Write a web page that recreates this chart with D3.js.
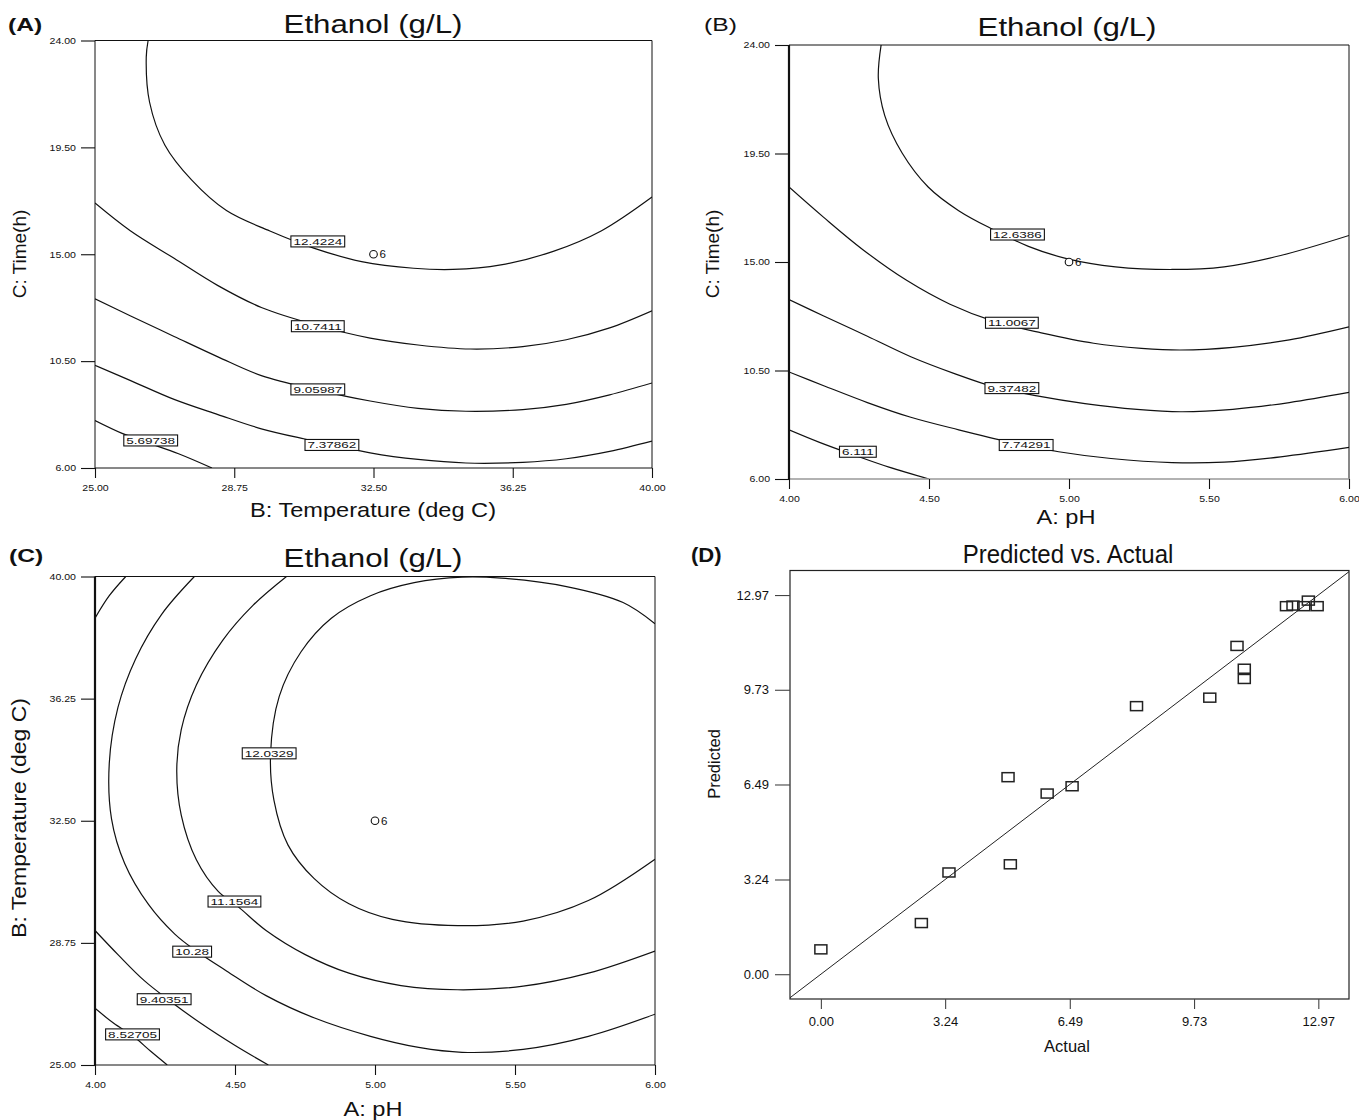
<!DOCTYPE html>
<html><head><meta charset="utf-8">
<script src="https://cdn.jsdelivr.net/npm/d3@7"></script>
<style>
body{margin:0;background:#fff}
svg{display:block}
text{font-family:"Liberation Sans",Arial,Helvetica,sans-serif}
</style>
</head><body>
<svg id="chart" width="1359" height="1120"></svg>
<script>
// ---------------- DATA ----------------
// Panel A : B Temperature (x) vs C Time (y)
const aXTicks = [25, 28.75, 32.5, 36.25, 40];
const aYTicks = [6, 10.5, 15, 19.5, 24];
const aLine12_4224 = [[26.43,24.0],[26.38,23.3],[26.47,21.4],[26.88,19.6],[27.6,18.13],[28.54,16.84],[29.71,15.98],[30.89,15.26],[32.18,14.69],[33.58,14.41],[34.64,14.36],[35.93,14.55],[37.34,15.12],[38.63,15.98],[40.0,17.41]];
const aLine10_7411 = [[25.0,17.16],[25.96,15.98],[27.13,14.83],[28.3,13.69],[29.48,12.76],[31.0,12.0],[32.41,11.47],[33.7,11.18],[35.11,11.01],[36.52,11.11],[37.69,11.4],[38.86,11.9],[40.0,12.62]];
const aLine9_05987 = [[25.0,13.12],[25.96,12.4],[27.13,11.54],[28.31,10.68],[29.48,9.89],[31.0,9.28],[32.41,8.82],[33.7,8.51],[34.99,8.39],[36.52,8.46],[37.69,8.68],[38.86,9.08],[40.0,9.58]];
const aLine7_37862 = [[25.0,10.32],[25.96,9.68],[27.13,8.89],[28.31,8.25],[29.48,7.65],[30.65,7.22],[31.36,6.99],[32.41,6.64],[33.7,6.36],[34.99,6.21],[36.52,6.24],[37.69,6.39],[38.86,6.7],[40.0,7.13]];
const aLine5_69738 = [[25.0,8.0],[25.73,7.46],[26.43,7.06],[27.25,6.6],[28.15,6.0]];
const aLabels = [["12.4224",31.0,15.54],["10.7411",31.0,11.97],["9.05987",31.0,9.31],["7.37862",31.38,6.97],["5.69738",26.5,7.16]];
const aDesignPoint = [32.5, 15, "6"];

// Panel B : A pH (x) vs C Time (y)
const bXTicks = [4, 4.5, 5, 5.5, 6];
const bYTicks = [6, 10.5, 15, 19.5, 24];
const bLine12_6386 = [[4.329,24.0],[4.319,22.62],[4.342,21.07],[4.404,19.52],[4.497,18.11],[4.606,17.13],[4.73,16.34],[4.855,15.65],[4.995,15.13],[5.166,14.8],[5.368,14.69],[5.554,14.8],[5.756,15.27],[6.0,16.1]];
const bLine11_0067 = [[4.0,18.11],[4.124,16.85],[4.264,15.51],[4.42,14.24],[4.575,13.25],[4.73,12.55],[4.901,12.06],[5.088,11.63],[5.259,11.42],[5.399,11.35],[5.585,11.46],[5.787,11.77],[6.0,12.31]];
const bLine9_37482 = [[4.0,13.44],[4.124,12.76],[4.28,11.92],[4.435,11.07],[4.591,10.37],[4.73,9.83],[4.886,9.45],[5.057,9.13],[5.243,8.89],[5.399,8.79],[5.585,8.89],[5.787,9.17],[6.0,9.59]];
const bLine7_74291 = [[4.0,10.44],[4.124,9.87],[4.28,9.17],[4.435,8.56],[4.606,8.04],[4.793,7.52],[4.963,7.13],[5.15,6.85],[5.368,6.68],[5.554,6.7],[5.756,6.92],[6.0,7.31]];
const bLine6_111 = [[4.0,8.04],[4.109,7.52],[4.233,6.99],[4.357,6.49],[4.5,6.0]];
const bLabels = [["12.6386",4.816,16.14],["11.0067",4.796,12.48],["9.37482",4.796,9.77],["7.74291",4.847,7.41],["6.111",4.246,7.13]];
const bDesignPoint = [5.0, 15, "6"];

// Panel C : A pH (x) vs B Temperature (y)
const cXTicks = [4, 4.5, 5, 5.5, 6];
const cYTicks = [25, 28.75, 32.5, 36.25, 40];
const cLine12_0329 = [[6.0,38.55],[5.886,39.2],[5.684,39.69],[5.451,39.95],[5.311,39.98],[5.14,39.81],[4.984,39.41],[4.844,38.72],[4.736,37.69],[4.658,36.32],[4.627,34.55],[4.639,33.13],[4.689,31.76],[4.782,30.73],[4.907,29.95],[5.062,29.47],[5.295,29.28],[5.529,29.42],[5.762,30.05],[6.0,31.32]];
const cLine11_1564 = [[4.684,40.0],[4.565,39.12],[4.456,38.04],[4.362,36.67],[4.308,35.3],[4.292,34.04],[4.308,32.67],[4.362,31.3],[4.44,30.33],[4.51,29.87],[4.611,29.13],[4.751,28.39],[4.907,27.82],[5.093,27.44],[5.295,27.31],[5.529,27.42],[5.762,27.82],[6.0,28.5]];
const cLine10_28 = [[4.355,40.0],[4.238,38.84],[4.145,37.47],[4.082,35.98],[4.051,34.27],[4.059,32.56],[4.106,31.19],[4.191,29.93],[4.285,29.02],[4.362,28.5],[4.471,27.88],[4.611,27.13],[4.782,26.45],[4.984,25.88],[5.156,25.54],[5.311,25.39],[5.529,25.48],[5.762,25.88],[6.0,26.56]];
const cLine9_40351 = [[4.0,29.13],[4.082,28.39],[4.176,27.59],[4.269,26.96],[4.378,26.28],[4.502,25.59],[4.619,25.0]];
const cLine8_52705 = [[4.0,26.74],[4.067,26.28],[4.137,25.88],[4.199,25.42],[4.258,25.0]];
const cLineCorner = [[4.11,40.0],[4.051,39.41],[4.0,38.72]];
const cLabels = [["12.0329",4.622,34.57],["11.1564",4.498,30.02],["10.28",4.347,28.48],["9.40351",4.247,27.02],["8.52705",4.134,25.94]];
const cDesignPoint = [5.0, 32.5, "6"];

// Panel D : Predicted vs Actual
const dTicks = [0, 3.24, 6.49, 9.73, 12.97];
const dActual    = [0.00, 2.62, 3.34, 4.94, 4.88, 5.90, 6.55, 8.23, 10.14, 10.85, 11.04, 11.04, 12.14, 12.31, 12.59, 12.71, 12.94];
const dPredicted = [0.85, 1.75, 3.48, 3.76, 6.74, 6.18, 6.43, 9.17, 9.46, 11.23, 10.45, 10.10, 12.59, 12.61, 12.59, 12.78, 12.59];

// ---------------- DRAW ----------------
const svg = d3.select("#chart");
const INK = "#111";

function sText(g, x, y, str, size, sx, opts = {}) {
  const rot = opts.rotate ? ` rotate(${opts.rotate})` : "";
  return g.append("text")
    .attr("transform", `translate(${x},${y})${rot} scale(${sx},1)`)
    .attr("text-anchor", opts.anchor || "middle")
    .attr("font-size", size)
    .attr("font-weight", opts.bold ? "bold" : "normal")
    .attr("fill", INK)
    .text(str);
}

function contourPanel(p) {
  const g = svg.append("g");
  const xs = d3.scaleLinear().domain(p.xDom).range([p.left, p.right]);
  const ys = d3.scaleLinear().domain(p.yDom).range([p.bottom, p.top]);
  const clipId = "clip" + p.id;
  svg.append("clipPath").attr("id", clipId).append("rect")
    .attr("x", p.left).attr("y", p.top)
    .attr("width", p.right - p.left).attr("height", p.bottom - p.top);

  const line = d3.line().x(d => xs(d[0])).y(d => ys(d[1])).curve(d3.curveCatmullRom.alpha(0.5));
  g.append("g").attr("clip-path", `url(#${clipId})`)
    .selectAll("path").data(p.lines).join("path")
    .attr("d", line).attr("fill", "none").attr("stroke", INK).attr("stroke-width", 1.2);

  // frame
  g.append("line").attr("x1", p.left).attr("x2", p.right).attr("y1", p.top).attr("y2", p.top).attr("stroke", INK).attr("stroke-width", 1);
  g.append("line").attr("x1", p.right).attr("x2", p.right).attr("y1", p.top).attr("y2", p.bottom).attr("stroke", INK).attr("stroke-width", 1);
  g.append("line").attr("x1", p.left).attr("x2", p.right).attr("y1", p.bottom).attr("y2", p.bottom).attr("stroke", p.bottomColor || INK).attr("stroke-width", p.bottomW || 1);
  g.append("line").attr("x1", p.left).attr("x2", p.left).attr("y1", p.top).attr("y2", p.bottom).attr("stroke", INK).attr("stroke-width", p.leftW || 1);

  const fmt = d3.format(".2f");
  const TS = 1.2; // horizontal stretch of small tick text
  const xAx = g.append("g").attr("transform", `translate(0,${p.bottom})`)
    .call(d3.axisBottom(xs).tickValues(p.xTicks).tickFormat(fmt).tickSize(10).tickPadding(p.xPad || 7));
  const yAx = g.append("g").attr("transform", `translate(${p.left},0)`)
    .call(d3.axisLeft(ys).tickValues(p.yTicks).tickFormat(fmt).tickSize(14).tickPadding(5));
  [xAx, yAx].forEach(a => {
    a.select(".domain").remove();
    a.selectAll(".tick line").attr("stroke", INK).attr("stroke-width", 1.1);
    a.selectAll(".tick text").attr("font-size", 8.8).attr("fill", INK)
      .attr("font-family", '"Liberation Sans", Arial, sans-serif');
  });
  xAx.selectAll(".tick text").attr("transform", `scale(${TS},1)`);
  yAx.selectAll(".tick text").each(function () {
    const t = d3.select(this);
    t.attr("x", +t.attr("x") / TS).attr("transform", `scale(${TS},1)`);
  });

  // design point
  const dp = p.point;
  g.append("circle").attr("cx", xs(dp[0])).attr("cy", ys(dp[1])).attr("r", 3.8)
    .attr("fill", "#fff").attr("stroke", INK).attr("stroke-width", 1.1);
  sText(g, xs(dp[0]) + 6, ys(dp[1]) + 3.8, dp[2], 10.5, 1.1, { anchor: "start" });

  // contour labels
  const LS = 1.5;
  p.labels.forEach(([s, vx, vy]) => {
    const cx = xs(vx), cy = ys(vy);
    const lg = g.append("g");
    const rect = lg.append("rect").attr("fill", "#fff").attr("stroke", INK).attr("stroke-width", 1.1);
    const t = sText(lg, cx, cy + 3.4, s, 9, LS);
    const w = t.node().getComputedTextLength() * LS + 5;
    rect.attr("x", cx - w / 2).attr("y", cy - 5.5).attr("width", w).attr("height", 11);
  });

  // texts
  sText(g, p.letter[1], p.letter[2], p.letter[0], 19, 1.3, { anchor: "start", bold: p.letter[3] });
  sText(g, p.title[1], p.title[2], p.title[0], 25, 1.25);
  sText(g, p.xTitle[1], p.xTitle[2], p.xTitle[0], 20, 1.18);
  sText(g, p.yTitle[1], p.yTitle[2], p.yTitle[0], p.yTitle[3], p.yTitle[4], { rotate: -90 });
}

contourPanel({
  id: "A", left: 95, right: 652, top: 40.5, bottom: 468,
  xDom: [25, 40], yDom: [6, 24], xTicks: aXTicks, yTicks: aYTicks,
  lines: [aLine12_4224, aLine10_7411, aLine9_05987, aLine7_37862, aLine5_69738],
  labels: aLabels, point: aDesignPoint,
  letter: ["(A)", 8, 31, true],
  title: ["Ethanol (g/L)", 373, 33],
  xTitle: ["B: Temperature (deg C)", 373, 517],
  yTitle: ["C: Time(h)", 26, 254, 19, 1.0]
});

contourPanel({
  id: "B", left: 789, right: 1349, top: 45, bottom: 479,
  leftW: 2.2, bottomColor: "#999", bottomW: 1.6,
  xDom: [4, 6], yDom: [6, 24], xTicks: bXTicks, yTicks: bYTicks,
  lines: [bLine12_6386, bLine11_0067, bLine9_37482, bLine7_74291, bLine6_111],
  labels: bLabels, point: bDesignPoint,
  letter: ["(B)", 704, 31, false],
  title: ["Ethanol (g/L)", 1067, 36],
  xTitle: ["A: pH", 1066, 524],
  yTitle: ["C: Time(h)", 719, 254, 19, 1.0]
});

contourPanel({
  id: "C", left: 95, right: 655, top: 576.5, bottom: 1065,
  leftW: 2.2,
  xDom: [4, 6], yDom: [25, 40], xTicks: cXTicks, yTicks: cYTicks,
  lines: [cLine12_0329, cLine11_1564, cLine10_28, cLine9_40351, cLine8_52705, cLineCorner],
  labels: cLabels, point: cDesignPoint,
  letter: ["(C)", 9, 562, true],
  title: ["Ethanol (g/L)", 373, 567],
  xTitle: ["A: pH", 373, 1116],
  yTitle: ["B: Temperature (deg C)", 26, 818, 20, 1.15]
});

// Panel D
(function () {
  const p = { left: 790, right: 1349, top: 570.5, bottom: 999 };
  const g = svg.append("g");
  const xs = d3.scaleLinear().domain([-0.805, 13.77]).range([p.left, p.right]);
  const ys = d3.scaleLinear().domain([-0.848, 13.81]).range([p.bottom, p.top]);
  svg.append("clipPath").attr("id", "clipD").append("rect")
    .attr("x", p.left).attr("y", p.top).attr("width", p.right - p.left).attr("height", p.bottom - p.top);

  g.append("rect").attr("x", p.left).attr("y", p.top).attr("width", p.right - p.left).attr("height", p.bottom - p.top)
    .attr("fill", "none").attr("stroke", "#222").attr("stroke-width", 1.2);

  const diag = [[-1, -1], [14, 14]];
  g.append("path").attr("clip-path", "url(#clipD)")
    .attr("d", d3.line().x(d => xs(d[0])).y(d => ys(d[1]))(diag))
    .attr("stroke", "#222").attr("stroke-width", 1).attr("fill", "none");

  const fmt = d3.format(".2f");
  const xAx = g.append("g").attr("transform", `translate(0,${p.bottom})`)
    .call(d3.axisBottom(xs).tickValues(dTicks).tickFormat(fmt).tickSize(10).tickPadding(8));
  const yAx = g.append("g").attr("transform", `translate(${p.left},0)`)
    .call(d3.axisLeft(ys).tickValues(dTicks).tickFormat(fmt).tickSize(15).tickPadding(6));
  [xAx, yAx].forEach(a => {
    a.select(".domain").remove();
    a.selectAll(".tick line").attr("stroke", "#444").attr("stroke-width", 1.1);
    a.selectAll(".tick text").attr("font-size", 13).attr("fill", INK)
      .attr("font-family", '"Liberation Sans", Arial, sans-serif');
  });

  const idx = d3.range(dActual.length);
  g.selectAll("rect.pt").data(idx).join("rect").attr("class", "pt")
    .attr("x", i => xs(dActual[i]) - 6).attr("y", i => ys(dPredicted[i]) - 4.5)
    .attr("width", 12).attr("height", 9)
    .attr("fill", "none").attr("stroke", "#222").attr("stroke-width", 1.5);

  sText(g, 691, 562, "(D)", 21, 1.05, { anchor: "start", bold: true });
  sText(g, 1068, 563, "Predicted vs. Actual", 25, 0.96);
  sText(g, 1067, 1052, "Actual", 16.5, 1.0);
  sText(g, 720, 764, "Predicted", 16.5, 1.0, { rotate: -90 });
})();
</script>
</body></html>
